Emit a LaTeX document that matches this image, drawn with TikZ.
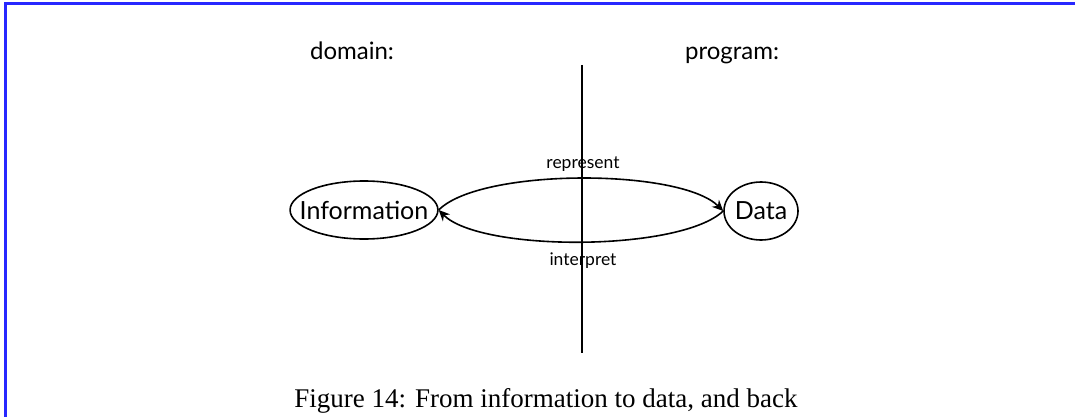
\documentclass[tikz,border=0pt]{standalone}
\usepackage{fontspec}
\setmainfont{Liberation Serif}
\newfontfamily\diagfont{Lato}
\usetikzlibrary{arrows.meta,shapes.geometric}
\definecolor{framecol}{RGB}{40,40,255}
\begin{document}
\begin{tikzpicture}[x=1pt,y=-1pt,
  oval/.style={draw,ellipse,line width=1.6pt,inner ysep=6pt,inner xsep=#1,minimum height=58pt,
    font=\diagfont\fontsize{25}{29}\selectfont},
  conn/.style={line width=1.6pt,-{Stealth[length=11pt,width=10pt]}},
  lbl/.style={font=\diagfont\fontsize{17.5}{20}\selectfont,anchor=base},
  hdr/.style={font=\diagfont\fontsize{24}{28}\selectfont,anchor=base}]
\useasboundingbox (0,0) rectangle (1075,417);
\draw[framecol,line width=3pt] (5.5,417) -- (5.5,3.5) -- (1075,3.5);
\node[hdr] (dom) at (352,60) {domain:};
\node[hdr] (prog) at (732,60) {program:};
\coordinate (vt) at (582,65);
\coordinate (vb) at (582,353);
\draw[line width=1.6pt] (vt) -- (vb);
\node[oval=-12pt] (info) at (364,210) {Information};
\node[oval=0pt] (data) at (761,211) {Data};
\draw[conn] (info.east) .. controls (480,168) and (680,168) .. (data.west);
\draw[conn] (data.west) .. controls (680,252) and (480,252) .. (info.east);
\node[lbl] (rep) at (583,168) {represent};
\node[lbl] (int) at (583,265) {interpret};
\node[font=\fontsize{27}{32}\selectfont,anchor=base] (cap) at (546,407) {Figure 14: From information to data, and back};
\end{tikzpicture}
\end{document}
